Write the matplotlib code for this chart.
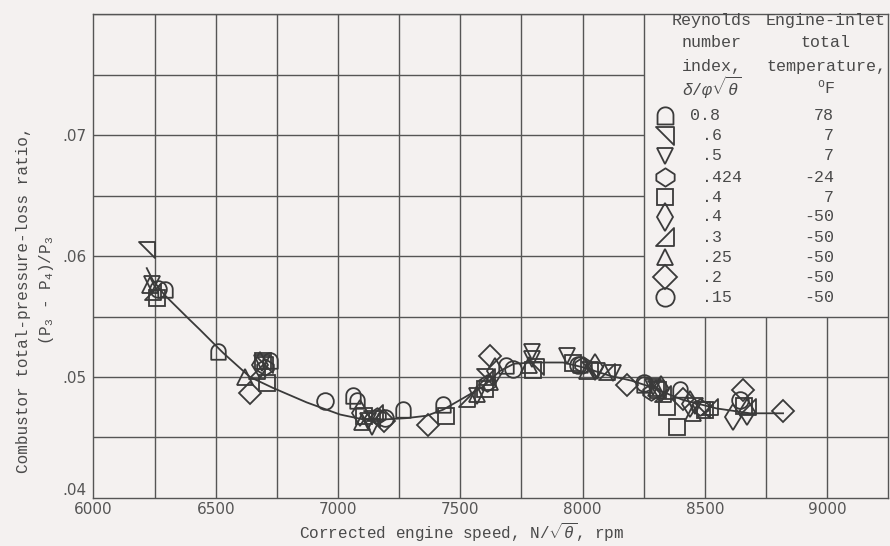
import numpy as np
import matplotlib
matplotlib.use("Agg")
import matplotlib.pyplot as plt
from matplotlib.path import Path

plt.rcParams['mathtext.fontset'] = 'custom'
plt.rcParams['mathtext.rm'] = 'Liberation Mono'
plt.rcParams['mathtext.it'] = 'Liberation Mono:italic'

# faired curve
curve_x = [6218, 6243, 6290, 6340, 6390, 6436, 6530, 6640, 6734, 6872, 7008, 7102,
           7196, 7280, 7363, 7430, 7499, 7593, 7662, 7720, 7800, 7920, 8002, 8113,
           8200, 8276, 8411, 8549, 8685, 8820]
curve_y = [.0590, .0580, .0568, .0558, .0548, .0539, .0520, .0500, .0491, .0479, .0469, .0465,
           .0465, .0466, .0468, .0473, .0481, .0492, .0505, .0511, .0512, .0512, .0508, .0501,
           .0497, .0492, .0481, .0474, .0470, .0470]

# data points per Reynolds number index / inlet temperature
re_index = ['0.8', '.6', '.5', '.424', '.4', '.4', '.3', '.25', '.2', '.15']
inlet_temp = ['78', '7', '7', '-24', '7', '-50', '-50', '-50', '-50', '-50']

x08 = [6292, 6508, 6722, 7063, 7077, 7266, 7430, 7689, 7990, 8250, 8399]
y08 = [.0572, .0521, .0513, .0484, .0480, .0473, .0477, .0509, .0510, .0493, .0489]
x06 = [6219, 6700, 7140, 7600, 7810, 8030, 8300, 8490]
y06 = [.0605, .0510, .0465, .0500, .0508, .0506, .0490, .0473]
x05 = [6238, 6690, 7123, 7139, 7567, 7792, 7792, 7935, 8060, 8126, 8290, 8460]
y05 = [.0577, .0512, .0464, .0459, .0484, .0521, .0515, .0517, .0505, .0503, .0492, .0476]
x0424 = [6700, 7160, 7610, 8000, 8280, 8480]
y0424 = [.0508, .0468, .0495, .0510, .0488, .0475]
x04a = [6258, 6694, 6708, 7105, 7440, 7600, 7799, 7960, 8310, 8344, 8385, 8500, 8660]
y04a = [.0565, .0513, .0495, .0468, .0468, .0490, .0506, .0512, .0489, .0475, .0459, .0473, .0476]
x04b = [6680, 7090, 7640, 8050, 8320, 8440, 8616, 8672]
y04b = [.0510, .0470, .0505, .0508, .0490, .0478, .0467, .0471]
x03 = [6245, 6670, 7150, 7526, 7610, 8100, 8330, 8520, 8677]
y03 = [.0570, .0505, .0470, .0482, .0500, .0504, .0486, .0475, .0475]
x025 = [6231, 6620, 7100, 7570, 7620, 7780, 8020, 8300, 8450]
y025 = [.0576, .0500, .0463, .0486, .0496, .0510, .0505, .0491, .0470]
x02 = [6640, 7190, 7368, 7622, 8181, 8410, 8656, 8820]
y02 = [.0487, .0464, .0460, .0517, .0493, .0482, .0489, .0472]
x015 = [6265, 6946, 7192, 7717, 7980, 8250, 8644]
y015 = [.0573, .0480, .0466, .0507, .0510, .0495, .0481]

xs = [x08, x06, x05, x0424, x04a, x04b, x03, x025, x02, x015]
ys = [y08, y06, y05, y0424, y04a, y04b, y03, y025, y02, y015]

# marker shapes
t = np.linspace(0, np.pi, 25)
arch = Path([(np.cos(a), 0.15 + np.sin(a)) for a in t] + [(-1, -1), (1, -1), (1, 0.15)], closed=True)
flag_top = Path([(-1, 1), (1, 1), (1, -1), (-1, 1)], closed=True)
flag_bot = Path([(1, 1), (1, -1), (-1, -1), (1, 1)], closed=True)
hexd = Path([(0, 1), (1, 0.35), (1, -0.35), (0, -1), (-1, -0.35), (-1, 0.35), (0, 1)], closed=True)
markers = [arch, flag_top, 'v', hexd, 's', 'd', flag_bot, '^', 'D', 'o']
sizes = [12, 12, 11, 12, 11, 13, 12, 11, 11, 12]

ink = '#3a3a3a'
bg = '#f4f1f0'

fig = plt.figure(figsize=(8.9, 5.46), dpi=100, facecolor=bg)
ax = fig.add_axes([0.105, 0.088, 0.893, 0.886], facecolor=bg)
ax.set_xlim(6000, 9250)
ax.set_ylim(0.04, 0.08)

# grid, left clear where the key sits (x > 8250, y > .055)
for gx in np.arange(6250, 9250, 250):
    top = 0.055 if gx > 8250 else 0.08
    ax.vlines(gx, 0.04, top, color='#555555', lw=1.0, zorder=1)
for gy in np.arange(0.045, 0.08, 0.005):
    right = 8250 if gy > 0.0551 else 9250
    ax.hlines(gy, 6000, right, color='#555555', lw=1.0, zorder=1)

ax.plot(curve_x, curve_y, color=ink, lw=1.3, zorder=2)
for x, y, m, s in zip(xs, ys, markers, sizes):
    ax.plot(x, y, ls='none', marker=m, ms=s, mfc='none', mec=ink, mew=1.3, zorder=3)

for sp in ax.spines.values():
    sp.set_color('#555555')
    sp.set_linewidth(1.0)

ax.set_xticks([6000, 6500, 7000, 7500, 8000, 8500, 9000])
ax.set_yticks([0.04, 0.05, 0.06, 0.07])
ax.set_yticklabels(['.04', '.05', '.06', '.07'])
ax.tick_params(length=0, labelsize=11, labelcolor='#555555')
ax.tick_params(axis='x', pad=3)
ax.tick_params(axis='y', pad=5)
ax.get_yticklabels()[0].set_va('bottom')

mono = 'Liberation Mono'
tc = '#4a4a4a'


def fx(px):
    return px / 890


def fy(py):
    return 1 - py / 546


fig.text(fx(462), fy(539), r'Corrected engine speed, N/$\sqrt{\theta}$, rpm', family=mono,
         fontsize=11.5, color=tc, ha='center', va='baseline')
fig.text(fx(24), fy(300), 'Combustor total-pressure-loss ratio,', family=mono,
         fontsize=11.5, color=tc, rotation=90, ha='center', va='center')
fig.text(fx(46), fy(290), r'(P$_3$ - P$_4$)/P$_3$', family=mono,
         fontsize=11.5, color=tc, rotation=90, ha='center', va='center')

# key
head_l = ['Reynolds', 'number', 'index,', r'$\delta/\varphi\sqrt{\theta}$']
head_r = ['Engine-inlet', 'total', 'temperature,', r'$^{\rm o}$F']
for i, (hl, hr) in enumerate(zip(head_l, head_r)):
    yy = fy([21, 43, 66, 87][i])
    fig.text(fx(712), yy, hl, family=mono, fontsize=12, color=tc, ha='center', va='center')
    fig.text(fx(826), yy, hr, family=mono, fontsize=12, color=tc, ha='center', va='center')

rows = [116, 136, 156, 177, 197, 217, 237, 257, 277, 297]
for r, lab, temp, m, s in zip(rows, re_index, inlet_temp, markers, sizes):
    ax.plot([fx(665)], [fy(r)], transform=fig.transFigure, clip_on=False, ls='none',
            marker=m, ms=s * 1.1, mfc='none', mec=ink, mew=1.3)
    lx = 690 if lab.startswith('0') else 702
    fig.text(fx(lx), fy(r), lab, family=mono, fontsize=12, color=tc, ha='left', va='center')
    fig.text(fx(834), fy(r), temp, family=mono, fontsize=12, color=tc, ha='right', va='center')

fig.savefig('out.png', dpi=100, facecolor=bg)
